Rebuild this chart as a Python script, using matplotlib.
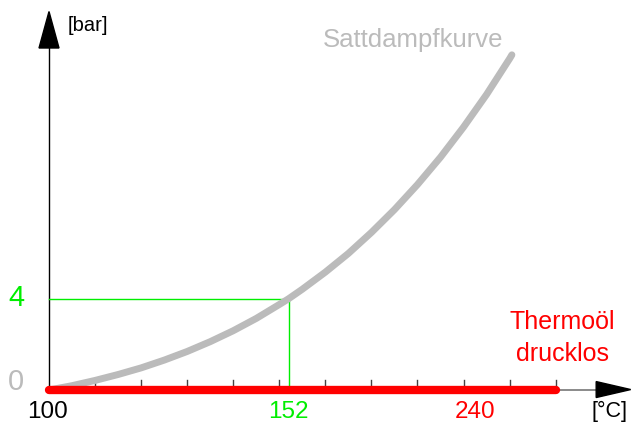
import matplotlib.pyplot as plt
from matplotlib.patches import Polygon

plt.rcParams['font.family'] = ['Liberation Sans', 'DejaVu Sans']

# saturation curve, gauge pressure [bar] over temperature [degC]
temp = [100, 105, 110, 115, 120, 125, 130, 135, 140, 145, 150, 152, 155,
        160, 165, 170, 175, 180, 185, 190, 195, 200, 200.5]
pressure = [0.0, 0.19, 0.42, 0.68, 0.97, 1.31, 1.69, 2.12, 2.60, 3.14, 3.75,
            4.0, 4.42, 5.17, 5.99, 6.91, 7.91, 9.01, 10.21, 11.53, 12.96,
            14.53, 14.70]

# marked point
mark_t = 152
mark_p = 4

# thermal oil line (pressureless)
oil_t = [100, 210]
oil_p = [0, 0]

tick_t = [110, 120, 130, 140, 150, 160, 170, 180, 190, 200, 210]

fig = plt.figure(figsize=(6.31, 4.23), dpi=100)
ax = fig.add_axes([0, 0, 1, 1])
ax.set_xlim(89.36, 226.36)
ax.set_ylim(-1.447, 17.105)
ax.axis('off')

GRAY = '#bbbbbb'
GREEN = '#00ee00'
RED = '#ff0000'

# axes
ax.plot([100, 100], [0, 15.0], color='black', lw=1, zorder=2)
ax.plot([100, 219], [0, 0], color='#777777', lw=1.2, zorder=2)
ax.add_patch(Polygon([[97.83, 15.0], [102.17, 15.0], [100, 16.6]],
                     closed=True, color='black', zorder=3))
ax.add_patch(Polygon([[218.8, 0.37], [218.8, -0.33], [226.3, 0.02]],
                     closed=True, color='black', zorder=3))

# ticks
for t in tick_t:
    ax.plot([t, t], [0, 0.44], color='#444444', lw=1, zorder=2)

# green helper lines
ax.plot([100, mark_t, mark_t], [mark_p, mark_p, 0], color=GREEN, lw=1, zorder=2)

# curve
ax.plot(temp, pressure, color=GRAY, lw=5, solid_capstyle='round',
        solid_joinstyle='round', zorder=4)

# red line
ax.plot(oil_t, oil_p, color=RED, lw=6, solid_capstyle='round', zorder=5)

# labels
ax.text(92.84, 0.35, '0', color=GRAY, fontsize=21, ha='center', va='center')
ax.text(92.84, 4.05, '4', color=GREEN, fontsize=21, ha='center', va='center')
ax.text(99.6, -0.96, '100', color='black', fontsize=17.5, ha='center', va='center')
ax.text(mark_t, -0.96, '152', color=GREEN, fontsize=17.5, ha='center', va='center')
ax.text(192.5, -0.96, '240', color=RED, fontsize=17.5, ha='center', va='center')
ax.text(221.6, -0.96, '[°C]', color='black', fontsize=15.5, ha='center', va='center')
ax.text(104.1, 16.0, '[bar]', color='black', fontsize=14.5, ha='left', va='center')
ax.text(179.0, 15.35, 'Sattdampfkurve', color=GRAY, fontsize=18.5, ha='center', va='center')
ax.text(211.4, 2.98, 'Thermoöl', color=RED, fontsize=18, ha='center', va='center')
ax.text(211.4, 1.58, 'drucklos', color=RED, fontsize=18, ha='center', va='center')

fig.savefig('out.png', dpi=100)
